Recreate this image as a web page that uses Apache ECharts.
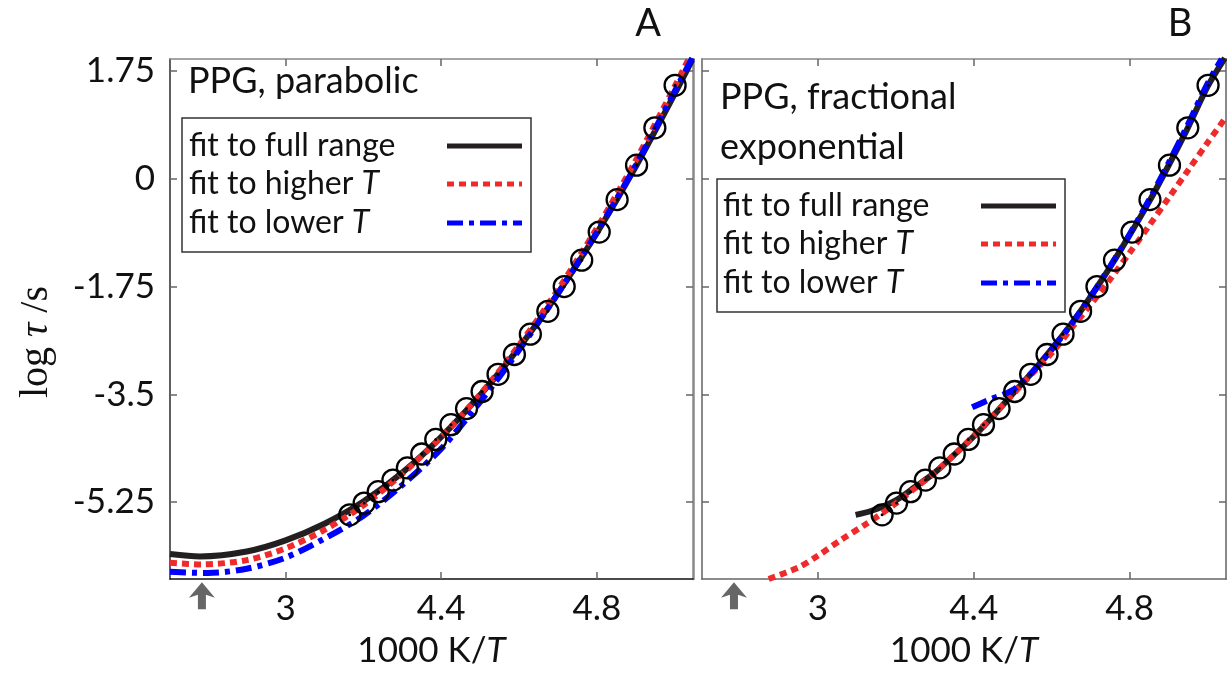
<!DOCTYPE html>
<html>
<head>
<meta charset="utf-8">
<script src="https://cdn.jsdelivr.net/npm/echarts@6/dist/echarts.min.js"></script>
<style>
html,body{margin:0;padding:0;background:#fff;}
#chart{width:1227px;height:673px;}
</style>
</head>
<body>
<div id="chart"></div>
<script>
// ---------------- data ----------------
const xTickValues = [4.0, 4.4, 4.8];
const xTickLabels = ['3', '4.4', '4.8'];
const yTickValues = [-5.25, -3.5, -1.75, 0, 1.75];
const yTickLabels = ['-5.25', '-3.5', '-1.75', '0', '1.75'];
const xRange = [3.703, 5.047];
const yRange = [-6.497, 1.945];

// measured points (1000 K/T, log tau/s)
const measured = [
  [4.165,-5.455],[4.202,-5.265],[4.238,-5.080],[4.276,-4.891],[4.313,-4.693],
  [4.350,-4.468],[4.386,-4.231],[4.425,-3.992],[4.465,-3.731],[4.505,-3.453],
  [4.546,-3.174],[4.588,-2.852],[4.629,-2.523],[4.674,-2.152],[4.716,-1.750],
  [4.761,-1.321],[4.806,-0.864],[4.852,-0.338],[4.902,0.221],[4.949,0.828],
  [5.001,1.518]
];

// panel A: parabolic fits
const parabFull = [[3.703,-6.09],[3.78,-6.13],[3.9,-6.05],[4.0,-5.87],[4.1,-5.6],[4.2,-5.24],[4.3,-4.77],[4.4,-4.19],[4.5,-3.51],[4.6,-2.74],[4.7,-1.86],[4.8,-0.88],[4.9,0.2],[5.0,1.38],[5.045,1.93]];
const parabHigh = [[3.703,-6.235],[3.785,-6.26],[3.9,-6.19],[4.0,-6.0],[4.1,-5.7],[4.2,-5.3],[4.3,-4.79],[4.4,-4.19],[4.5,-3.5],[4.6,-2.7],[4.7,-1.8],[4.8,-0.8],[4.9,0.3],[5.0,1.5],[5.04,2.0]];
const parabLow = [[3.703,-6.38],[3.8,-6.4],[3.9,-6.33],[4.0,-6.15],[4.1,-5.84],[4.2,-5.47],[4.3,-4.97],[4.4,-4.38],[4.5,-3.62],[4.6,-2.78],[4.7,-1.86],[4.8,-0.87],[4.9,0.22],[5.0,1.42],[5.045,1.96]];

// panel B: fractional exponential fits
const fracFull = [[4.097,-5.455],[4.14,-5.385],[4.2,-5.22],[4.25,-5.0],[4.3,-4.77],[4.35,-4.48],[4.4,-4.18],[4.45,-3.85],[4.5,-3.49],[4.55,-3.14],[4.6,-2.76],[4.65,-2.36],[4.7,-1.91],[4.75,-1.43],[4.8,-0.91],[4.85,-0.37],[4.9,0.22],[4.95,0.84],[5.0,1.5],[5.044,1.96]];
const fracHigh = [[3.874,-6.497],[3.95,-6.31],[4.0,-6.12],[4.06,-5.86],[4.12,-5.62],[4.165,-5.43],[4.2,-5.27],[4.25,-5.02],[4.3,-4.77],[4.35,-4.48],[4.4,-4.17],[4.45,-3.84],[4.5,-3.5],[4.55,-3.16],[4.6,-2.83],[4.65,-2.43],[4.7,-2.04],[4.75,-1.63],[4.8,-1.2],[4.85,-0.76],[4.9,-0.31],[4.95,0.14],[5.0,0.59],[5.047,1.0]];
const fracLow = [[4.396,-3.71],[4.434,-3.6],[4.5,-3.43],[4.55,-3.14],[4.6,-2.77],[4.65,-2.36],[4.7,-1.91],[4.75,-1.42],[4.8,-0.9],[4.85,-0.34],[4.9,0.26],[4.95,0.89],[5.0,1.55],[5.036,1.945]];

const arrowX = [3.785];
const legendNames = ['fit to full range', 'fit to higher {i|T}', 'fit to lower {i|T}'];

// ---------------- styling ----------------
const FONT = "Lato, 'Noto Sans', sans-serif";
const C_BLACK = '#231f20', C_RED = '#ee2a2a', C_BLUE = '#0000ff';
const LS = [
  {color: C_BLACK, width: 6, type: 'solid'},
  {color: C_RED, width: 6, type: [7, 5], cap: 'butt'},
  {color: C_BLUE, width: 6, type: [16, 6, 5, 6], cap: 'butt'}
];
const ARROW_Y = -6.77; // layout: just below the axis

function fmtX(v) { const i = xTickValues.findIndex(t => Math.abs(t - v) < 1e-6); return i >= 0 ? xTickLabels[i] : ''; }
function fmtY(v) { const i = yTickValues.findIndex(t => Math.abs(t - v) < 1e-6); return i >= 0 ? yTickLabels[i] : ''; }

const grids = [
  {left: 170, top: 59, width: 523, height: 524},
  {left: 702, top: 59, width: 524, height: 524}
];
const borders = [
  {left: {c:'#2a2a2a', w:1.5}, bottom: {c:'#111', w:1.5}, top: {c:'#888', w:1.5}, right: {c:'#888', w:2.5}},
  {left: {c:'#888', w:2}, bottom: {c:'#666', w:1.5}, top: {c:'#888', w:1.5}, right: {c:'#888', w:2}}
];
const tick = (vals) => ({inside: true, length: 7, customValues: vals, lineStyle: {color: '#666', width: 1.5}});

const xAxes = [], yAxes = [];
[0, 1].forEach(g => {
  xAxes.push({
    type: 'value', gridIndex: g, position: 'bottom', min: xRange[0], max: xRange[1],
    axisLine: {onZero: false, lineStyle: {color: borders[g].bottom.c, width: borders[g].bottom.w}},
    axisTick: tick(xTickValues),
    axisLabel: {customValues: xTickValues, formatter: fmtX, margin: 12, fontSize: 35, color: '#111', fontFamily: FONT},
    splitLine: {show: false},
    name: '1000 K/{i|T}', nameLocation: 'middle', nameGap: 54,
    nameTextStyle: {fontSize: 35, color: '#111', fontFamily: FONT,
      rich: {i: {fontSize: 35, fontStyle: 'italic', color: '#111', fontFamily: FONT}}}
  });
  yAxes.push({
    type: 'value', gridIndex: g, position: 'left', min: yRange[0], max: yRange[1],
    axisLine: {onZero: false, lineStyle: {color: borders[g].left.c, width: borders[g].left.w}},
    axisTick: tick(yTickValues),
    axisLabel: {show: g === 0, customValues: yTickValues, formatter: fmtY, margin: 15, fontSize: 35, color: '#111', fontFamily: FONT},
    splitLine: {show: false}
  });
});
[0, 1].forEach(g => {
  xAxes.push({
    type: 'value', gridIndex: g, position: 'top', min: xRange[0], max: xRange[1],
    axisLine: {onZero: false, lineStyle: {color: borders[g].top.c, width: borders[g].top.w}},
    axisTick: tick(xTickValues), axisLabel: {show: false}, splitLine: {show: false}
  });
  yAxes.push({
    type: 'value', gridIndex: g, position: 'right', min: yRange[0], max: yRange[1],
    axisLine: {onZero: false, lineStyle: {color: borders[g].right.c, width: borders[g].right.w}},
    axisTick: tick(yTickValues), axisLabel: {show: false}, splitLine: {show: false}
  });
});

function lineSeries(name, data, g, k) {
  return {name, type: 'line', xAxisIndex: g, yAxisIndex: g, data, smooth: 0.3, symbol: 'none',
    lineStyle: LS[k], z: 2 + k, silent: true, animation: false};
}
const ARROW_PATH = 'path://M13,0 L26,16 L17,13 L17,28 L9,28 L9,13 L0,16 Z';
const series = [];
[[parabFull, parabHigh, parabLow], [fracFull, fracHigh, fracLow]].forEach((sets, g) => {
  sets.forEach((d, k) => series.push(lineSeries('fit' + g + k, d, g, k)));
  series.push({type: 'scatter', xAxisIndex: g, yAxisIndex: g, data: measured, symbol: 'circle', symbolSize: 21,
    itemStyle: {color: 'rgba(0,0,0,0)', borderColor: '#000', borderWidth: 2.3, opacity: 1}, z: 10, animation: false});
  series.push({type: 'scatter', xAxisIndex: g, yAxisIndex: g, data: measured, symbol: 'circle', symbolSize: 3,
    itemStyle: {color: '#000', opacity: 1}, z: 11, animation: false});
  series.push({type: 'scatter', xAxisIndex: g, yAxisIndex: g, clip: false,
    data: arrowX.map(x => [x, ARROW_Y]), symbol: ARROW_PATH, symbolSize: [26, 27],
    itemStyle: {color: '#666', opacity: 1}, z: 12, animation: false});
});

// legend boxes and annotations (graphic)
const LEG_FS = 32;
const richI = {i: {fontStyle: 'italic', fontSize: LEG_FS, fontFamily: FONT, fill: '#111'}};
function legendBox(x, y, w, h, textX, rows, lineX1, lineX2) {
  const els = [{type: 'rect', shape: {x, y, width: w, height: h}, style: {fill: '#fff', stroke: '#333', lineWidth: 1.5}, z: 20}];
  rows.forEach((ry, k) => {
    els.push({type: 'text', x: textX, y: ry, z: 21, style: {text: legendNames[k], font: LEG_FS + 'px ' + FONT, fill: '#111',
      verticalAlign: 'middle', align: 'left', rich: richI}});
    els.push({type: 'line', z: 21, shape: {x1: lineX1, y1: ry, x2: lineX2, y2: ry},
      style: {stroke: LS[k].color, lineWidth: 5, lineDash: k === 0 ? null : LS[k].type, lineCap: 'butt'}});
  });
  return els;
}
const graphic = [].concat(
  legendBox(182, 118, 349, 134, 189, [146, 184, 223], 447, 522),
  legendBox(717, 179, 348, 133, 723, [206, 244, 283], 981, 1056),
  [
    {type: 'text', x: 188, y: 81, z: 21, style: {text: 'PPG, parabolic', font: '36px ' + FONT, fill: '#111', verticalAlign: 'middle'}},
    {type: 'text', x: 720, y: 97, z: 21, style: {text: 'PPG, fractional', font: '36px ' + FONT, fill: '#111', verticalAlign: 'middle'}},
    {type: 'text', x: 720, y: 147, z: 21, style: {text: 'exponential', font: '36px ' + FONT, fill: '#111', verticalAlign: 'middle'}},
    {type: 'text', x: 648, y: 24, z: 21, style: {text: 'A', font: '38px ' + FONT, fill: '#111', align: 'center', verticalAlign: 'middle'}},
    {type: 'text', x: 1180, y: 24, z: 21, style: {text: 'B', font: '38px ' + FONT, fill: '#111', align: 'center', verticalAlign: 'middle'}},
    {type: 'text', x: 36, y: 342, rotation: Math.PI / 2, z: 21,
      style: {text: 'log {i|τ} /s', font: "40px 'Liberation Serif', 'DejaVu Serif', serif", fill: '#111', align: 'center', verticalAlign: 'middle',
        rich: {i: {fontStyle: 'italic', fontSize: 40, fontFamily: "'Liberation Serif', 'DejaVu Serif', serif", fill: '#111'}}}}
  ]
);

const chart = echarts.init(document.getElementById('chart'), null, {renderer: 'canvas'});
chart.setOption({
  backgroundColor: '#fff',
  animation: false,
  grid: grids,
  xAxis: xAxes,
  yAxis: yAxes,
  series,
  graphic
});
</script>
</body>
</html>
